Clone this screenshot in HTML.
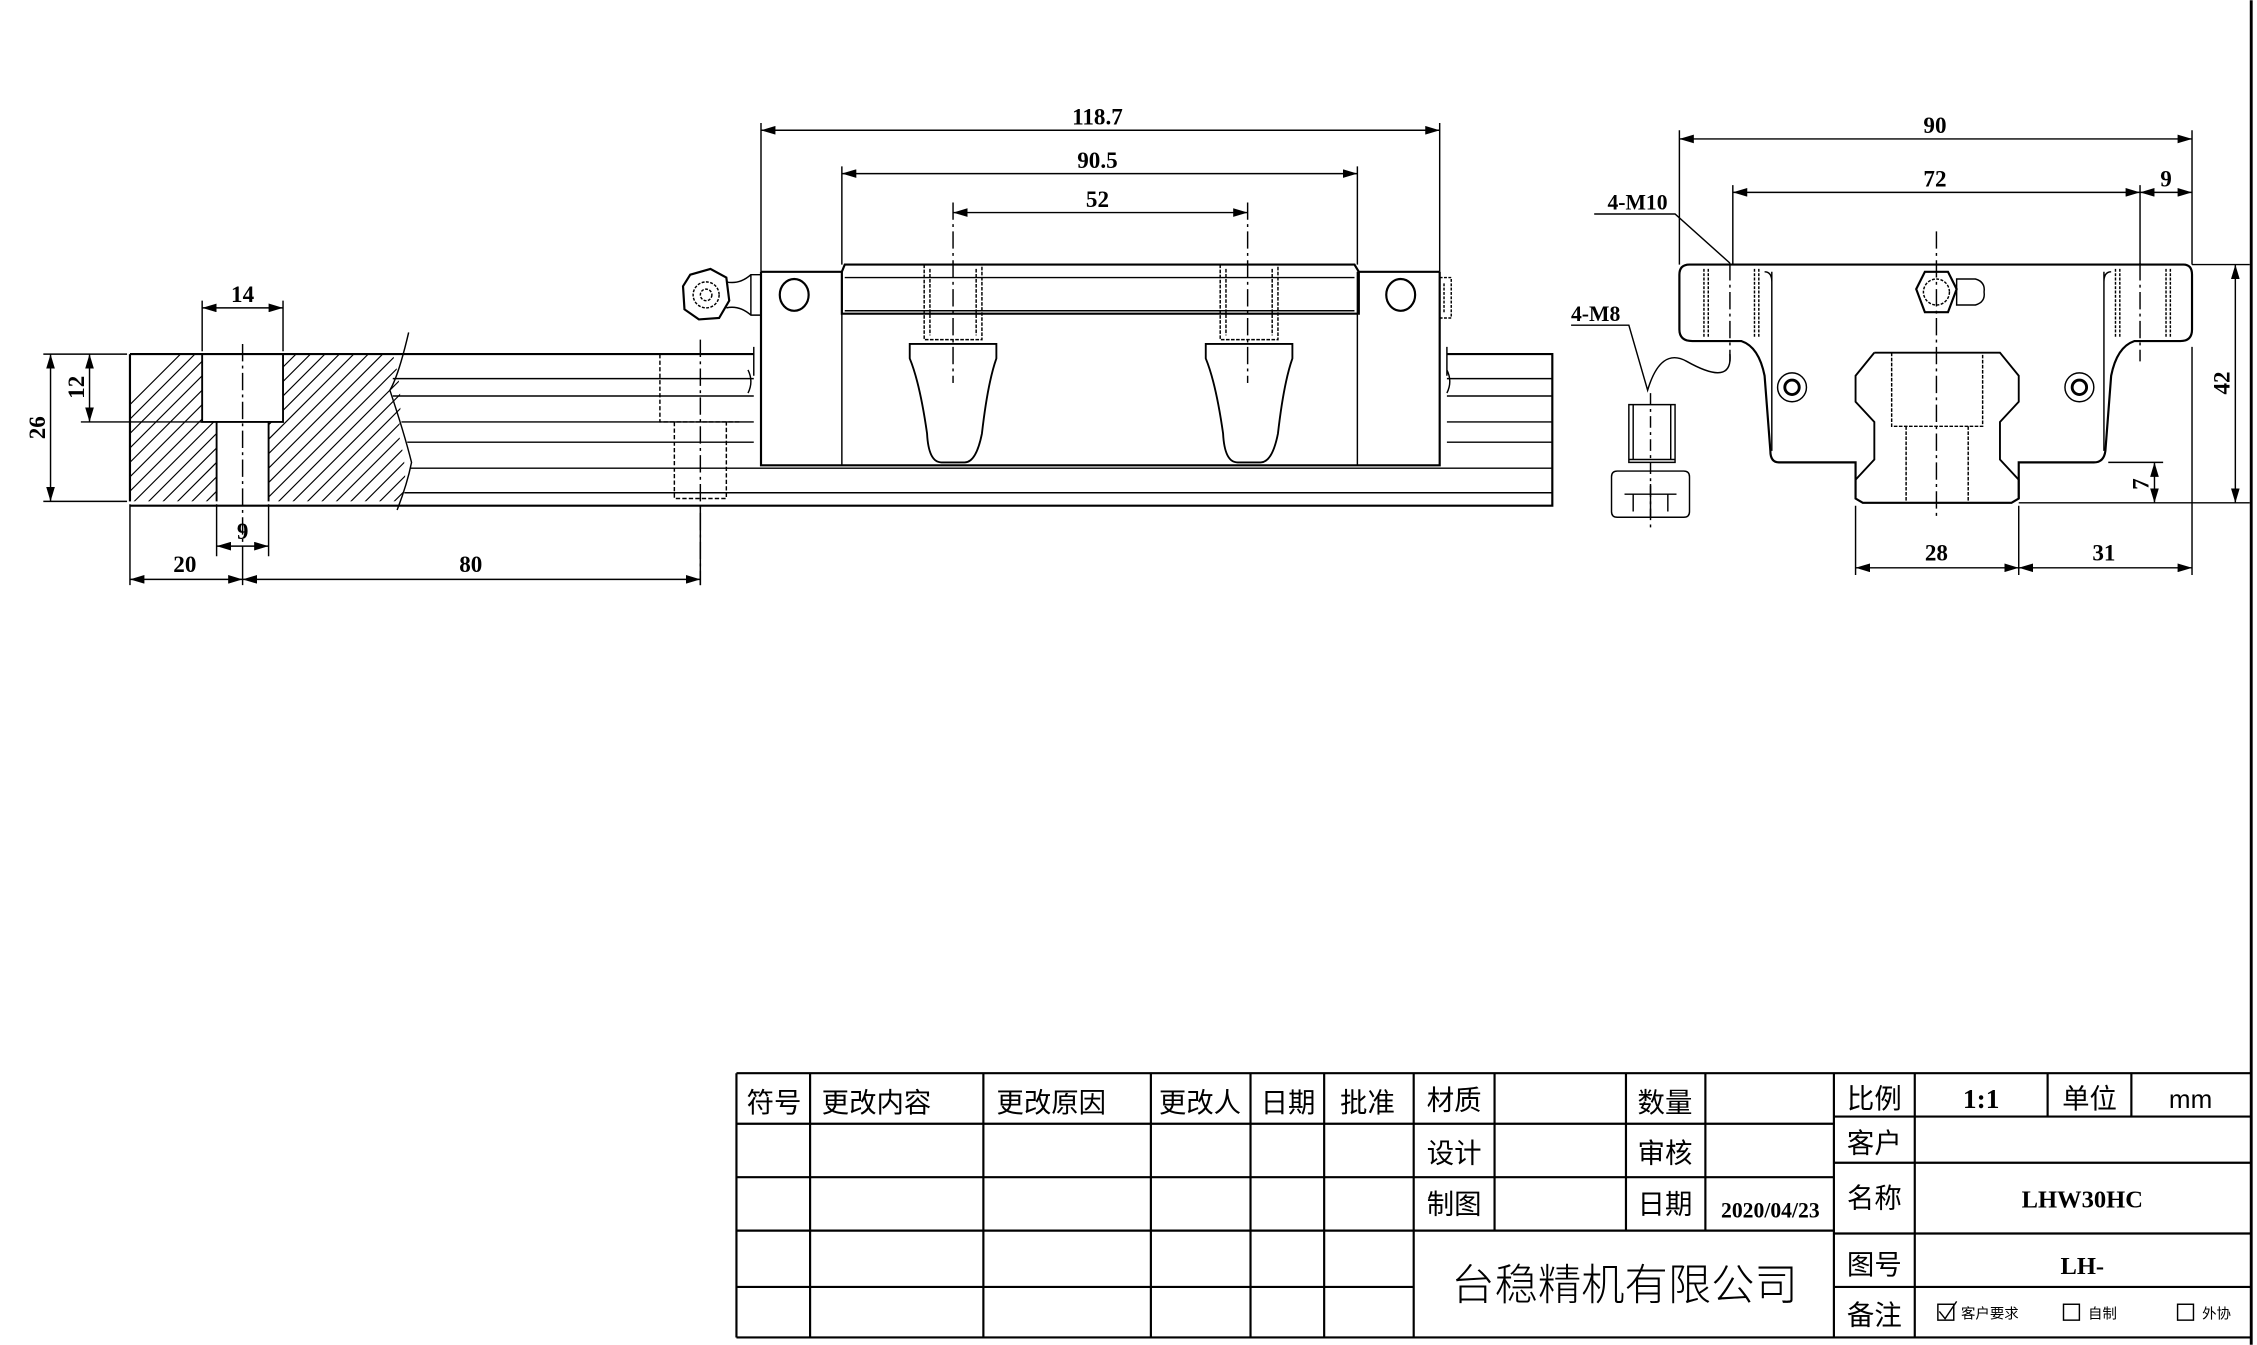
<!DOCTYPE html>
<html><head><meta charset="utf-8"><style>
html,body{margin:0;padding:0;background:#fff;}
svg{display:block;}
.t{font-family:"Liberation Serif","Noto Serif CJK SC",serif;font-weight:bold;fill:#000;}
.c{font-family:"Liberation Sans","Noto Sans CJK SC",sans-serif;fill:#000;}
</style></head><body>
<svg width="2257" height="1345" viewBox="0 0 1563 931" xmlns="http://www.w3.org/2000/svg">
<defs>
<marker id="a" viewBox="0 0 10 6" refX="10" refY="3" markerWidth="10" markerHeight="6" orient="auto-start-reverse" markerUnits="userSpaceOnUse"><path d="M0,0 L10,3 L0,6 z" fill="#000"/></marker>
<clipPath id="hc"><path d="M90,245 H272 Q280,270 276,300 Q284,330 278,347 H90 Z M140,245 V292 H150 V347 H186 V292 H196 V245 Z" clip-rule="evenodd"/></clipPath>
</defs>
<rect width="1563" height="931" fill="#fff"/>
<g fill="none" stroke="#000" stroke-width="1">
<line x1="1559" y1="0" x2="1559" y2="931" stroke-width="2"/>

<g clip-path="url(#hc)" stroke-width="0.8">
<path d="M80,300 l70,-70 M80,320 l90,-90 M80,340 l110,-110 M80,360 l130,-130 M90,370 l140,-140 M110,370 l140,-140 M130,370 l140,-140 M150,370 l140,-140 M170,370 l140,-140 M190,370 l140,-140 M210,370 l140,-140 M230,370 l140,-140 M250,370 l140,-140 M270,370 l140,-140 M100,370 l140,-140 M120,370 l140,-140 M140,370 l140,-140 M160,370 l140,-140 M180,370 l140,-140 M200,370 l140,-140 M220,370 l140,-140 M240,370 l140,-140 M260,370 l140,-140 M80,310 l80,-80 M80,330 l100,-100 M80,350 l120,-120 M80,370 l140,-140 M80,290 l60,-60"/>
</g>
<path d="M90,245 V347 M90,245 H1075 V350 H90" stroke-width="1.5"/>
<path d="M140,245 V292 H196 V245 M150,292 V347 M186,292 V347" stroke-width="1.3"/>
<path d="M283,230 Q276,260 270,270 Q280,300 285,320 Q282,335 275,353" />
<line x1="272" y1="262" x2="1075" y2="262"/>
<line x1="272" y1="274" x2="1075" y2="274"/>
<line x1="278" y1="292" x2="1075" y2="292"/>
<line x1="282" y1="306" x2="1075" y2="306"/>
<line x1="284" y1="324" x2="1075" y2="324"/>
<line x1="280" y1="341" x2="1075" y2="341"/>
<line x1="168" y1="238" x2="168" y2="380" stroke-dasharray="12,3,2,3"/>
<path d="M457,245 V292 H512 M467,292 V345 H503 V292" stroke-dasharray="3,1.5"/>
<line x1="485" y1="235" x2="485" y2="405" stroke-dasharray="12,3,2,3"/>
<path d="M140,243 V208 M196,243 V208"/>
<line x1="140" y1="213" x2="196" y2="213" marker-start="url(#a)" marker-end="url(#a)"/>
<path d="M150,349 V385 M186,349 V385"/>
<line x1="150" y1="378" x2="186" y2="378" marker-start="url(#a)" marker-end="url(#a)"/>
<path d="M90,349 V405 M168,380 V405 M485,350 V405"/>
<line x1="90" y1="401" x2="168" y2="401" marker-start="url(#a)" marker-end="url(#a)"/>
<line x1="168" y1="401" x2="485" y2="401" marker-start="url(#a)" marker-end="url(#a)"/>
<path d="M30,245 H88 M30,347 H88 M56,292 H140"/>
<line x1="35" y1="245" x2="35" y2="347" marker-start="url(#a)" marker-end="url(#a)"/>
<line x1="62" y1="245" x2="62" y2="292" marker-start="url(#a)" marker-end="url(#a)"/>

<rect x="522" y="188" width="480" height="134" fill="#fff" stroke="none"/>
<path d="M527,188 H583 M940,188 H997 M527,188 V322 H997 V188" stroke-width="1.5"/>
<path d="M583,188 V322 M940,188 V322"/>
<path d="M585,183 H938 L941,188 V217 H583 V188 Z" stroke-width="1.5"/>
<line x1="585" y1="192" x2="938" y2="192"/>
<line x1="585" y1="215" x2="938" y2="215"/>
<ellipse cx="550" cy="204" rx="10" ry="11" stroke-width="1.5"/>
<ellipse cx="970" cy="204" rx="10" ry="11" stroke-width="1.5"/>
<path d="M522,240 V260 M1002,240 V260 M518,256 q4,8 0,16 M1002,256 q4,8 0,16"/>
<polygon points="478,190 492,186 503,192 505,208 498,220 484,221 474,214 473,198" stroke-width="1.5"/>
<circle cx="489" cy="204" r="9" stroke-dasharray="2,1"/>
<circle cx="489" cy="204" r="4" stroke-dasharray="2,1"/>
<path d="M503,195 Q512,197 520,190 H527 M503,213 Q512,211 520,218 H527 M520,190 V218"/>
<path d="M997,192 H1005 V220 H997 M1000,196 V216" stroke-dasharray="2,1"/>
<path d="M640,183 V235 H680 V183 M644,186 V232 M676,186 V232 M845,183 V235 H885 V183 M849,186 V232 M881,186 V232" stroke-dasharray="2.5,1"/>
<line x1="660" y1="140" x2="660" y2="265" stroke-dasharray="12,3,2,3"/>
<line x1="864" y1="140" x2="864" y2="265" stroke-dasharray="12,3,2,3"/>
<path d="M630,238 H690 L690,248 Q684,265 680,300 Q676,320 668,320 H652 Q643,320 642,300 Q637,265 630,248 Z" stroke-width="1.3"/>
<path d="M835,238 H895 L895,248 Q889,265 885,300 Q881,320 873,320 H857 Q848,320 847,300 Q842,265 835,248 Z" stroke-width="1.3"/>
<path d="M527,85 V188 M997,85 V188 M583,115 V183 M940,115 V183"/>
<line x1="527" y1="90" x2="997" y2="90" marker-start="url(#a)" marker-end="url(#a)"/>
<line x1="583" y1="120" x2="940" y2="120" marker-start="url(#a)" marker-end="url(#a)"/>
<line x1="660" y1="147" x2="864" y2="147" marker-start="url(#a)" marker-end="url(#a)"/>

<path d="M1170,183 H1512 Q1518,183 1518,190 V228 Q1518,236 1510,236 H1478 Q1466,240 1462,260 L1458,312 Q1457,320 1450,320 H1398 V345 L1393,348 H1290 L1285,345 V320 H1232 Q1226,320 1226,312 L1222,260 Q1218,240 1206,236 H1172 Q1163,236 1163,228 V190 Q1163,183 1170,183 Z" stroke-width="1.5"/>
<path d="M1227,188 V312 M1457,188 V312 M1222,188 Q1227,188 1227,195 M1462,188 Q1457,188 1457,195"/>
<path d="M1298,244 H1385 L1398,260 V278 L1385,292 V318 L1398,332 V345 M1298,244 L1285,260 V278 L1298,292 V318 L1285,332 V345" stroke-width="1.3"/>
<path d="M1310,244 V295 H1373 V244 M1320,295 V348 M1363,295 V348" stroke-dasharray="2.5,1"/>
<path d="M1180,186 V234 M1218,186 V234 M1183,186 V234 M1215,186 V234 M1465,186 V234 M1503,186 V234 M1468,186 V234 M1500,186 V234" stroke-dasharray="2,1"/>
<line x1="1341" y1="160" x2="1341" y2="360" stroke-dasharray="12,3,2,3"/>
<line x1="1198" y1="182" x2="1198" y2="250" stroke-dasharray="12,3,2,3"/>
<line x1="1482" y1="182" x2="1482" y2="250" stroke-dasharray="12,3,2,3"/>
<polygon points="1333,188 1349,188 1355,200 1349,216 1333,216 1327,200" stroke-width="1.5"/>
<circle cx="1341" cy="202" r="9" stroke-dasharray="2,1"/>
<path d="M1355,193 H1368 Q1375,195 1374,202 Q1375,209 1368,211 H1355 Z"/>
<circle cx="1241" cy="268" r="10"/><circle cx="1241" cy="268" r="5" stroke-width="2"/>
<circle cx="1440" cy="268" r="10"/><circle cx="1440" cy="268" r="5" stroke-width="2"/>
<path d="M1128,280 H1160 V320 H1128 Z M1128,318 H1160 M1131,280 V318 M1157,280 V318"/>
<path d="M1120,326 H1166 Q1170,326 1170,330 V354 Q1170,358 1166,358 H1120 Q1116,358 1116,354 V330 Q1116,326 1120,326 Z M1125,342 H1161 M1143,335 V358 M1131,342 V354 M1155,342 V354"/>
<line x1="1143" y1="272" x2="1143" y2="368" stroke-dasharray="8,3,2,3"/>
<path d="M1104,148 H1160 L1198,182"/>
<path d="M1088,225 H1128 L1141,270 Q1150,240 1168,250 Q1200,268 1198,245"/>
<path d="M1163,90 V183 M1518,90 V183 M1200,128 V183 M1482,128 V183"/>
<line x1="1163" y1="96" x2="1518" y2="96" marker-start="url(#a)" marker-end="url(#a)"/>
<line x1="1200" y1="133" x2="1482" y2="133" marker-start="url(#a)" marker-end="url(#a)"/>
<line x1="1482" y1="133" x2="1518" y2="133" marker-start="url(#a)" marker-end="url(#a)"/>
<path d="M1518,183 H1558 M1398,348 H1558 M1460,320 H1498"/>
<line x1="1548" y1="183" x2="1548" y2="348" marker-start="url(#a)" marker-end="url(#a)"/>
<line x1="1492" y1="320" x2="1492" y2="348" marker-start="url(#a)" marker-end="url(#a)"/>
<path d="M1285,350 V398 M1398,350 V398 M1518,240 V398"/>
<line x1="1285" y1="393" x2="1398" y2="393" marker-start="url(#a)" marker-end="url(#a)"/>
<line x1="1398" y1="393" x2="1518" y2="393" marker-start="url(#a)" marker-end="url(#a)"/>

<g stroke-width="1.5">
<path d="M510,743 H1559 M510,926 H1559 M510,743 V926"/>
<path d="M510,778 H1270 M510,815 H1270 M510,852 H1270 M510,891 H979"/>
<path d="M561,743 V926 M681,743 V926 M797,743 V926 M866,743 V926 M917,743 V926 M979,743 V926"/>
<path d="M1035,743 V852 M1126,743 V852 M1181,743 V852 M1270,743 V926"/>
<path d="M1270,773 H1559 M1270,805 H1559 M1270,854 H1559 M1270,891 H1559"/>
<path d="M1326,743 V926 M1418,743 V773 M1476,743 V773"/>
</g>
</g>

<g class="t" font-size="16" text-anchor="middle">
<text x="168" y="209">14</text>
<text x="168" y="373">9</text>
<text x="128" y="396">20</text>
<text x="326" y="396">80</text>
<text x="0" y="0" transform="translate(31,296) rotate(-90)">26</text>
<text x="0" y="0" transform="translate(58,268) rotate(-90)">12</text>
<text x="760" y="86">118.7</text>
<text x="760" y="116">90.5</text>
<text x="760" y="143">52</text>
<text x="1340" y="92">90</text>
<text x="1340" y="129">72</text>
<text x="1500" y="129">9</text>
<text x="0" y="0" transform="translate(1544,265) rotate(-90)">42</text>
<text x="0" y="0" transform="translate(1488,335) rotate(-90)">7</text>
<text x="1341" y="388">28</text>
<text x="1457" y="388">31</text>
<text x="1134" y="145" font-size="15">4-M10</text>
<text x="1105" y="222" font-size="15">4-M8</text>
</g>
<g class="c" font-size="19" text-anchor="middle">
<text x="536" y="770">符号</text>
<text x="607" y="770">更改内容</text>
<text x="728" y="770">更改原因</text>
<text x="831" y="770">更改人</text>
<text x="892" y="770">日期</text>
<text x="947" y="770">批准</text>
<text x="1007" y="768">材质</text>
<text x="1153" y="770">数量</text>
<text x="1007" y="805">设计</text>
<text x="1153" y="805">审核</text>
<text x="1007" y="840">制图</text>
<text x="1153" y="840">日期</text>
<text x="1298" y="767">比例</text>
<text x="1447" y="767">单位</text>
<text x="1298" y="798">客户</text>
<text x="1298" y="836">名称</text>
<text x="1298" y="882">图号</text>
<text x="1298" y="917">备注</text>
<text x="1125" y="900" font-size="30" font-weight="300">台稳精机有限公司</text>
<text x="1517" y="767" font-size="18">mm</text>
</g>
<g class="t" text-anchor="middle">
<text x="1372" y="767" font-size="19">1:1</text>
<text x="1226" y="843" font-size="15">2020/04/23</text>
<text x="1442" y="836" font-size="17">LHW30HC</text>
<text x="1442" y="882" font-size="17">LH-</text>
</g>
<g class="c" font-size="10">
<rect x="1342" y="903" width="11" height="11" fill="none" stroke="#000"/>
<path d="M1343,908 l4,5 l8,-12" fill="none" stroke="#000"/>
<text x="1358" y="913">客户要求</text>
<rect x="1429" y="903" width="11" height="11" fill="none" stroke="#000"/>
<text x="1446" y="913">自制</text>
<rect x="1508" y="903" width="11" height="11" fill="none" stroke="#000"/>
<text x="1525" y="913">外协</text>
</g>
</svg>
</body></html>
